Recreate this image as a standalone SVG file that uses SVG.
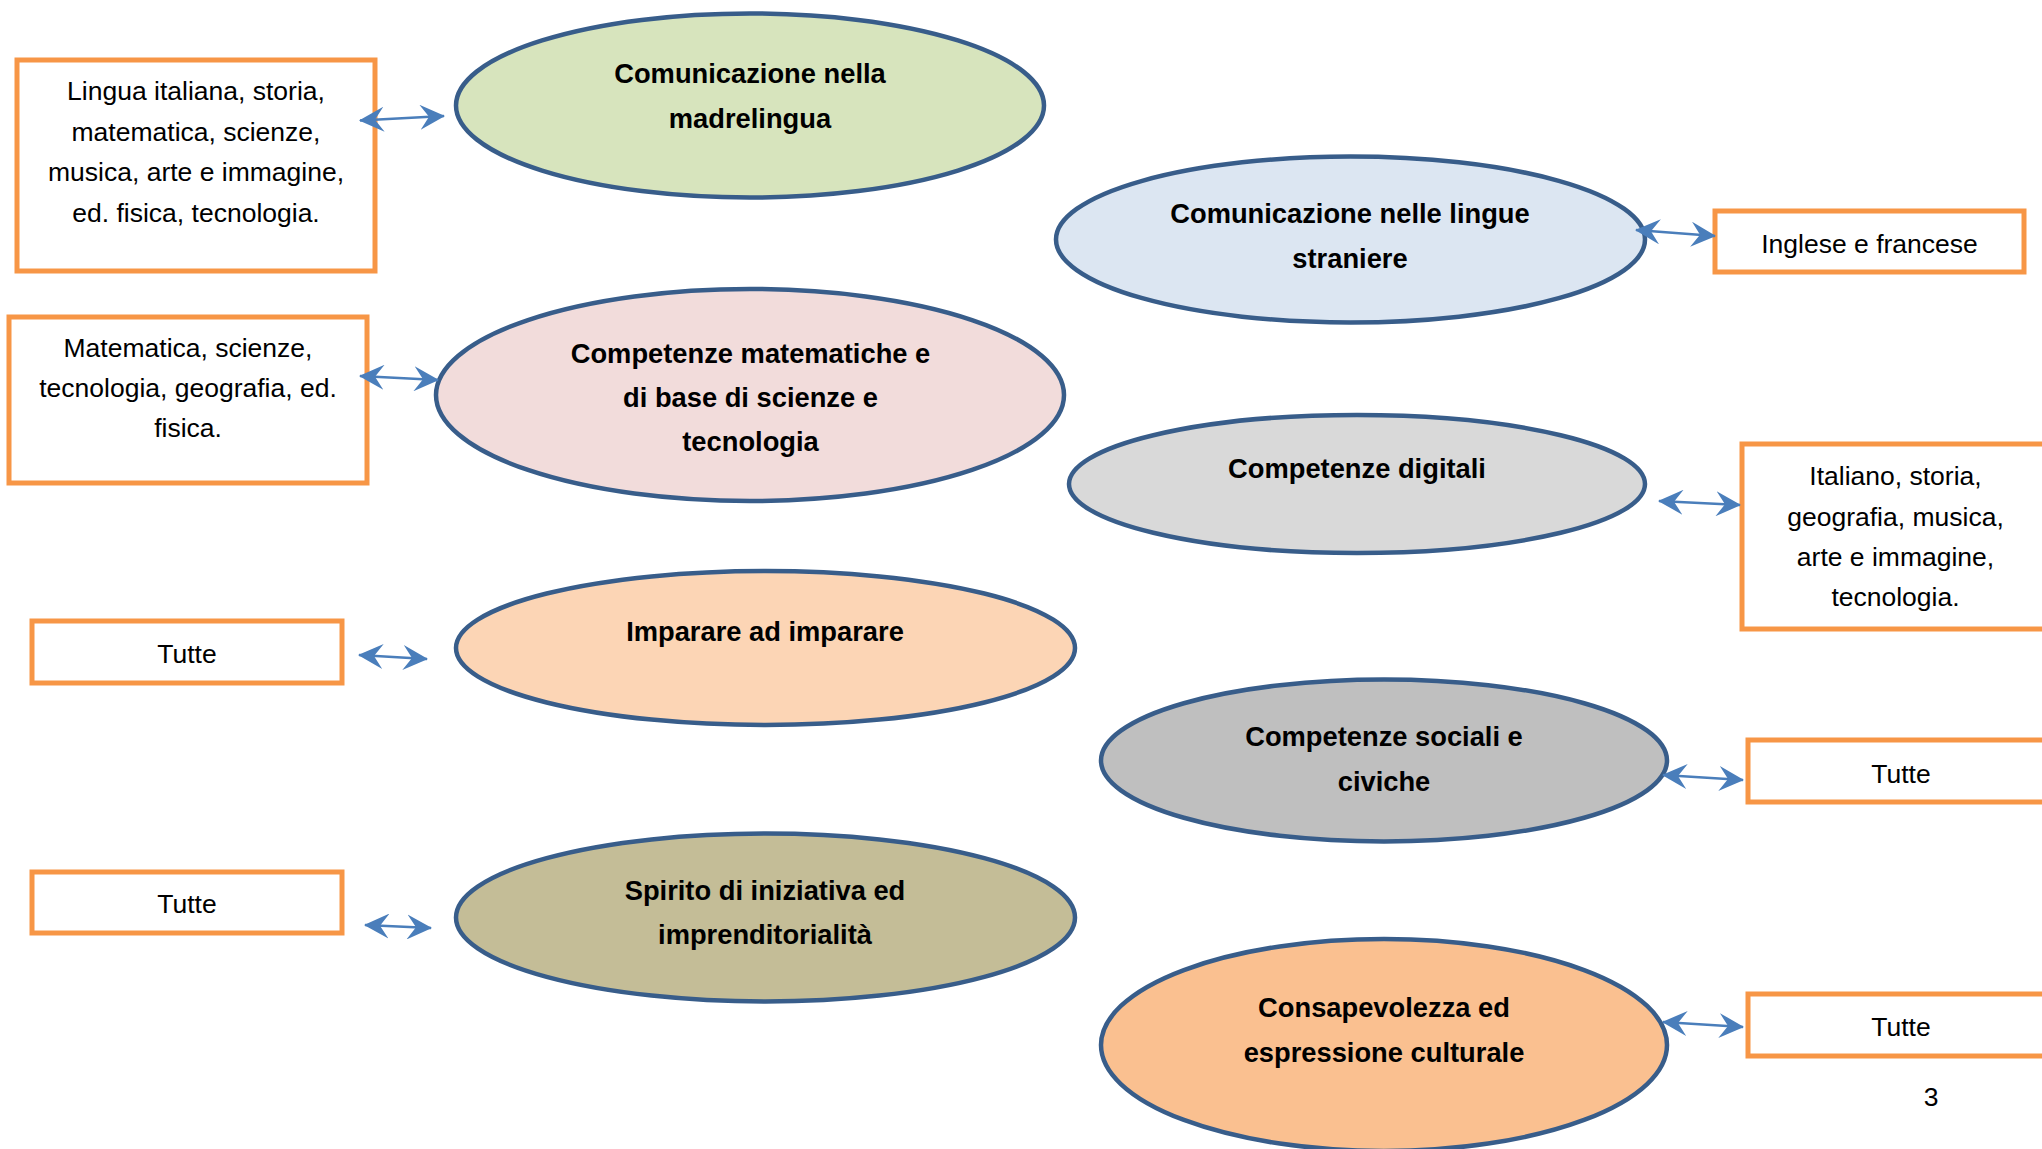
<svg xmlns="http://www.w3.org/2000/svg" width="2042" height="1149" viewBox="0 0 2042 1149">
<defs>
<style>
.box{fill:#FFFFFF;stroke:#F79646;stroke-width:5}
.ell{stroke:#385D8A;stroke-width:4.5}
.bt{font-family:"Liberation Sans",Arial,sans-serif;font-size:26.5px;fill:#000;text-anchor:middle}
.et{font-family:"Liberation Sans",Arial,sans-serif;font-size:27.3px;font-weight:bold;fill:#000;text-anchor:middle}
.con{stroke:#4A7EBB;stroke-width:2.5;fill:none;marker-start:url(#ah);marker-end:url(#ah)}
</style>
<marker id="ah" viewBox="0 0 25 25" refX="24" refY="12.5" markerWidth="25" markerHeight="25" markerUnits="userSpaceOnUse" orient="auto-start-reverse">
<path d="M0,0 L25,12.5 L0,25 L9,12.5 Z" fill="#4A7EBB"/>
</marker>
</defs>
<rect width="2042" height="1149" fill="#FFFFFF"/>

<g id="box-lingua">
<rect class="box" x="17" y="60" width="358" height="211"/>
<text class="bt" x="196" y="99.5">Lingua italiana, storia,</text>
<text class="bt" x="196" y="140.5">matematica, scienze,</text>
<text class="bt" x="196" y="181">musica, arte e immagine,</text>
<text class="bt" x="196" y="221.5">ed. fisica, tecnologia.</text>
</g>

<g id="box-matematica">
<rect class="box" x="9" y="317" width="358" height="166"/>
<text class="bt" x="188" y="356.5">Matematica, scienze,</text>
<text class="bt" x="188" y="396.5">tecnologia, geografia, ed.</text>
<text class="bt" x="188" y="437">fisica.</text>
</g>

<g id="box-inglese">
<rect class="box" x="1715" y="211" width="309" height="61"/>
<text class="bt" x="1869.5" y="253">Inglese e francese</text>
</g>

<g id="box-italiano">
<rect class="box" x="1742" y="444" width="320" height="185"/>
<text class="bt" x="1895.5" y="485">Italiano, storia,</text>
<text class="bt" x="1895.5" y="526">geografia, musica,</text>
<text class="bt" x="1895.5" y="566">arte e immagine,</text>
<text class="bt" x="1895.5" y="606">tecnologia.</text>
</g>

<g id="box-tutte-1">
<rect class="box" x="32" y="621" width="310" height="62"/>
<text class="bt" x="187" y="663">Tutte</text>
</g>

<g id="box-tutte-2">
<rect class="box" x="32" y="872" width="310" height="61"/>
<text class="bt" x="187" y="913">Tutte</text>
</g>

<g id="box-tutte-3">
<rect class="box" x="1748" y="740" width="320" height="62"/>
<text class="bt" x="1901" y="783">Tutte</text>
</g>

<g id="box-tutte-4">
<rect class="box" x="1748" y="994" width="320" height="62"/>
<text class="bt" x="1901" y="1036">Tutte</text>
</g>

<g id="ell-madrelingua">
<ellipse class="ell" cx="750" cy="105.5" rx="294" ry="92" fill="#D7E4BD"/>
<text class="et" x="750" y="83">Comunicazione nella</text>
<text class="et" x="750" y="128">madrelingua</text>
</g>

<g id="ell-lingue-straniere">
<ellipse class="ell" cx="1350.5" cy="239.5" rx="294.5" ry="83" fill="#DCE6F2"/>
<text class="et" x="1350" y="223">Comunicazione nelle lingue</text>
<text class="et" x="1350" y="268">straniere</text>
</g>

<g id="ell-matematiche">
<ellipse class="ell" cx="750" cy="395" rx="314" ry="106" fill="#F2DCDB"/>
<text class="et" x="750.5" y="362.5">Competenze matematiche e</text>
<text class="et" x="750.5" y="407">di base di scienze e</text>
<text class="et" x="750.5" y="451">tecnologia</text>
</g>

<g id="ell-digitali">
<ellipse class="ell" cx="1357" cy="484" rx="288" ry="69" fill="#D9D9D9"/>
<text class="et" x="1357" y="478">Competenze digitali</text>
</g>

<g id="ell-imparare">
<ellipse class="ell" cx="765.5" cy="648" rx="309.5" ry="77" fill="#FCD5B5"/>
<text class="et" x="765" y="641">Imparare ad imparare</text>
</g>

<g id="ell-sociali">
<ellipse class="ell" cx="1384" cy="760.5" rx="283" ry="81" fill="#BFBFBF"/>
<text class="et" x="1384" y="746">Competenze sociali e</text>
<text class="et" x="1384" y="791">civiche</text>
</g>

<g id="ell-iniziativa">
<ellipse class="ell" cx="765.5" cy="917.5" rx="309.5" ry="84" fill="#C4BD97"/>
<text class="et" x="765" y="900">Spirito di iniziativa ed</text>
<text class="et" x="765" y="944">imprenditorialità</text>
</g>

<g id="ell-culturale">
<ellipse class="ell" cx="1384" cy="1045" rx="283" ry="106" fill="#FAC090"/>
<text class="et" x="1384" y="1017">Consapevolezza ed</text>
<text class="et" x="1384" y="1062">espressione culturale</text>
</g>

<text class="bt" x="1931" y="1106">3</text>

<g id="connectors">
<line class="con" x1="360" y1="120.5" x2="444" y2="116"/>
<line class="con" x1="360" y1="376" x2="438" y2="380"/>
<line class="con" x1="1636" y1="230" x2="1715" y2="236"/>
<line class="con" x1="1659" y1="501" x2="1740" y2="505"/>
<line class="con" x1="359" y1="655" x2="427" y2="659"/>
<line class="con" x1="365" y1="925" x2="431" y2="928"/>
<line class="con" x1="1663" y1="775" x2="1743" y2="780"/>
<line class="con" x1="1663" y1="1022" x2="1743" y2="1027"/>
</g>
</svg>
